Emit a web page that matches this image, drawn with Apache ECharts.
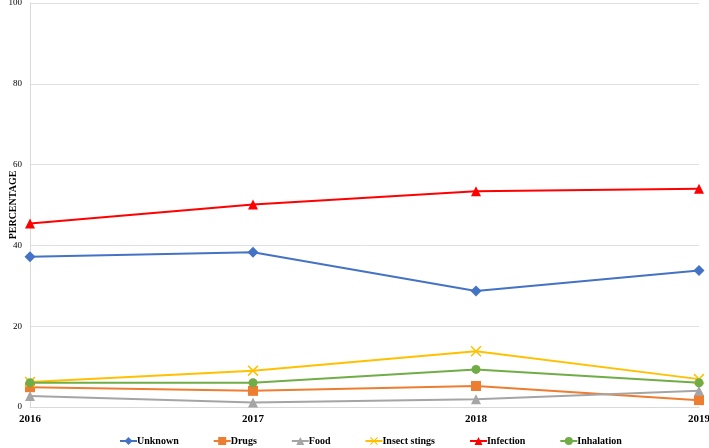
<!DOCTYPE html>
<html><head><meta charset="utf-8">
<script src="https://cdn.jsdelivr.net/npm/echarts@6/dist/echarts.min.js"></script>
<style>html,body{margin:0;padding:0;background:#fff}#c{width:709px;height:448px}</style>
</head><body><div id="c"></div>
<script>
const years = ['2016', '2017', '2018', '2019'];
const yTicks = [0, 20, 40, 60, 80, 100];
const unknown = [37.2, 38.3, 28.7, 33.8];
const drugs = [4.9, 4.0, 5.2, 1.7];
const food = [2.7, 1.1, 1.9, 4.0];
const insectStings = [6.2, 9.0, 13.8, 6.9];
const infection = [45.4, 50.1, 53.4, 54.0];
const inhalation = [6.0, 6.0, 9.3, 6.0];

const xPath = 'path://M1,0L5,4L9,0L10,1L6,5L10,9L9,10L5,6L1,10L0,9L4,5L0,1Z';
const serif = '"Liberation Serif","Times New Roman",serif';

function mk(name, data, color, symbol, size) {
  return { name, type: 'line', data, symbol, symbolSize: size,
    lineStyle: { color, width: 2 }, itemStyle: { color },
    emphasis: { disabled: true }, animation: false };
}

const chart = echarts.init(document.getElementById('c'));
chart.setOption({
  animation: false,
  grid: { left: 30, right: 10, top: 3, bottom: 41, containLabel: false, outerBoundsMode: 'none' },
  xAxis: {
    type: 'category', data: years, boundaryGap: false,
    axisLine: { lineStyle: { color: '#d9d9d9' } },
    axisTick: { show: false },
    axisLabel: { color: '#000', fontFamily: serif, fontWeight: 'bold', fontSize: 11, margin: 7 }
  },
  yAxis: {
    type: 'value', min: yTicks[0], max: yTicks[yTicks.length - 1], interval: 20,
    name: 'PERCENTAGE', nameLocation: 'middle', nameGap: 12, nameMoveOverlap: false,
    nameTextStyle: { color: '#000', fontFamily: serif, fontWeight: 'bold', fontSize: 10 },
    axisLine: { show: true, lineStyle: { color: '#d9d9d9' } },
    axisTick: { show: false },
    splitLine: { lineStyle: { color: '#e0e0e0' } },
    axisLabel: { color: '#000', fontFamily: serif, fontSize: 9, margin: 8 }
  },
  legend: {
    top: 431, left: 114, itemWidth: 17, itemHeight: 10, itemGap: 34,
    textStyle: { color: '#000', fontFamily: serif, fontWeight: 'bold', fontSize: 10, padding: [0, 0, 0, -5] }
  },
  series: [
    mk('Unknown', unknown, '#4472C4', 'diamond', 11),
    mk('Drugs', drugs, '#ED7D31', 'rect', 10),
    mk('Food', food, '#A5A5A5', 'triangle', 10),
    mk('Insect stings', insectStings, '#FFC000', xPath, 11),
    mk('Infection', infection, '#FF0000', 'triangle', 10),
    mk('Inhalation', inhalation, '#70AD47', 'circle', 9)
  ]
});
</script></body></html>
